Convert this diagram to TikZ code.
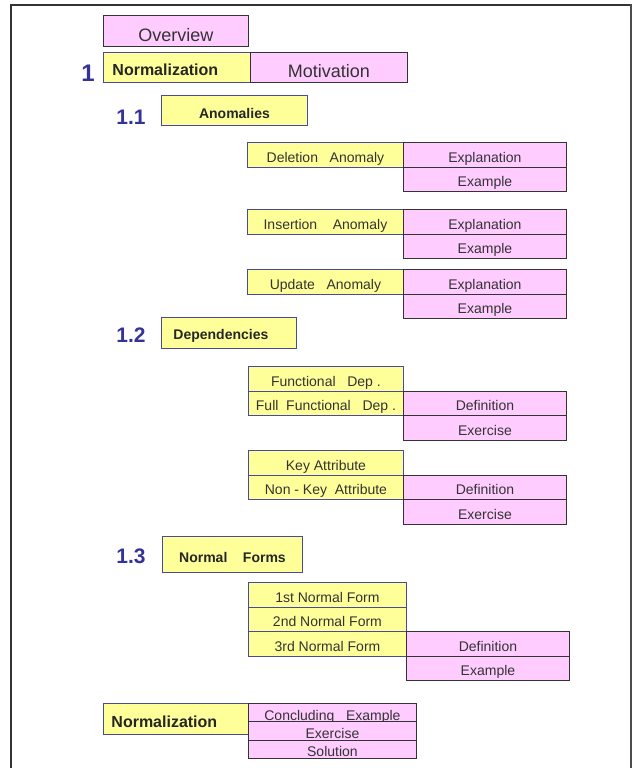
\documentclass[tikz,border=0pt]{standalone}
\usepackage{fontspec}
\setmainfont{Liberation Sans}
\definecolor{boxYellow}{HTML}{FFFF99}
\definecolor{boxPink}{HTML}{FFCCFF}
\definecolor{yLine}{HTML}{4A4A9A}
\definecolor{pLine}{HTML}{333333}
\definecolor{numBlue}{HTML}{333399}
\definecolor{txtGray}{HTML}{333333}

\begin{document}
\begin{tikzpicture}[x=1pt, y=-1pt,
    ybox/.style={rectangle, draw=yLine, fill=boxYellow, line width=0.9pt, anchor=north west, inner sep=0pt, text height=15.5pt, text depth=0pt, font=\fontsize{14}{16}\selectfont, text=txtGray},
    pbox/.style={rectangle, draw=pLine, fill=boxPink, line width=0.9pt, anchor=north west, inner sep=0pt, text height=15.5pt, text depth=0pt, font=\fontsize{14}{16}\selectfont, text=txtGray},
    headbox/.style={ybox, font=\fontsize{14}{16}\selectfont\bfseries, text=black!85},
    bighead/.style={ybox, font=\fontsize{16}{18}\selectfont\bfseries, text=black!85, align=left, text height=16.5pt},
    numlabel/.style={font=\fontsize{21}{23}\selectfont\bfseries, text=numBlue},
    subrow/.style={minimum width=156pt, minimum height=24.5pt},
    detrow/.style={minimum width=163pt, minimum height=24.5pt},
    endrow/.style={minimum width=168pt, minimum height=18.3pt}
]
    \useasboundingbox (0,0) rectangle (634,768);
    \draw[black!80, line width=1.3pt] (11,768) -- (11,5) -- (631,5);
    \draw[gray!60!black, line width=2.2pt] (631,4) -- (631,768);

    \node[pbox, minimum width=145pt, minimum height=31pt, text height=20.4pt, font=\fontsize{18}{20}\selectfont] (overview) at (103,15) {Overview};
    \node[bighead, inner xsep=9pt, text width=129pt, minimum height=30pt] (normTop) at (103,52) {Normalization};
    \node[pbox, minimum width=157pt, minimum height=30pt, text height=19.4pt, font=\fontsize{18}{20}\selectfont] (motivation) at (250,52) {Motivation};
    \node[numlabel, font=\fontsize{24}{26}\selectfont\bfseries] (num1) at (88,73) {1};

    \node[numlabel] (num11) at (131,117) {1.1};
    \node[headbox, minimum width=146pt, minimum height=30pt, text height=16pt] (anomalies) at (161,95) {Anomalies};

    \node[ybox, subrow] (delAnom) at (247,142) {Deletion\ \ \ Anomaly};
    \node[pbox, detrow] (delExpl) at (403,142) {Explanation};
    \node[pbox, detrow] (delExam) at (403,166.5) {Example};

    \node[ybox, subrow] (insAnom) at (247,209) {Insertion\ \ \ \ Anomaly};
    \node[pbox, detrow] (insExpl) at (403,209) {Explanation};
    \node[pbox, detrow] (insExam) at (403,233.5) {Example};

    \node[ybox, subrow] (updAnom) at (247,269) {Update\ \ \ Anomaly};
    \node[pbox, detrow] (updExpl) at (403,269) {Explanation};
    \node[pbox, detrow] (updExam) at (403,293.5) {Example};

    \node[numlabel] (num12) at (131,335) {1.2};
    \node[headbox, align=left, inner xsep=12pt, text width=111pt, minimum height=31pt, text height=14pt] (dependencies) at (161,317) {Dependencies};

    \node[ybox, subrow, minimum width=155pt] (funcDep) at (248,366) {Functional\ \ \ Dep .};
    \node[ybox, subrow, minimum width=155pt] (fullFunc) at (248,390.5) {Full\ \ Functional\ \ \ Dep .};
    \node[pbox, detrow] (fullDef) at (403,390.5) {Definition};
    \node[pbox, detrow] (fullEx) at (403,415) {Exercise};

    \node[ybox, subrow, minimum width=155pt] (keyAttr) at (248,450) {Key Attribute};
    \node[ybox, subrow, minimum width=155pt] (nonKey) at (248,474.5) {Non - Key\ \ Attribute};
    \node[pbox, detrow] (nonKeyDef) at (403,474.5) {Definition};
    \node[pbox, detrow] (nonKeyEx) at (403,499) {Exercise};

    \node[numlabel] (num13) at (131,556) {1.3};
    \node[headbox, minimum width=140pt, minimum height=36pt] (normalForms) at (162,536) {Normal\ \ \ \ Forms};

    \node[ybox, subrow, minimum width=158pt] (firstNF) at (248,582) {1st Normal Form};
    \node[ybox, subrow, minimum width=158pt] (secondNF) at (248,606.5) {2nd Normal Form};
    \node[ybox, subrow, minimum width=158pt] (thirdNF) at (248,631) {3rd Normal Form};
    \node[pbox, detrow] (thirdDef) at (406,631) {Definition};
    \node[pbox, detrow] (thirdEx) at (406,655.5) {Example};

    \node[bighead, inner xsep=8pt, text width=129pt, minimum height=31pt, text height=17pt] (normBottom) at (103,703) {Normalization};
    \node[pbox, endrow] (concl) at (248,703) {Concluding\ \ \ Example};
    \node[pbox, endrow] (conclEx) at (248,721.3) {Exercise};
    \node[pbox, endrow] (conclSol) at (248,739.6) {Solution};
\end{tikzpicture}
\end{document}
